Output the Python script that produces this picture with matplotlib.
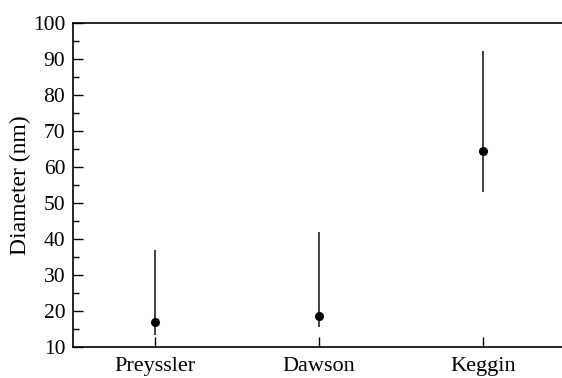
import numpy as np
import matplotlib.pyplot as plt
from matplotlib.ticker import MultipleLocator

categories = ["Preyssler", "Dawson", "Keggin"]
diameter = [17.0, 18.7, 64.4]
err_low = [13.3, 15.6, 53.1]
err_high = [37.0, 42.0, 92.2]

plt.rcParams['font.family'] = 'Liberation Serif'
plt.rcParams['mathtext.fontset'] = 'stix'

fig = plt.figure(figsize=(5.62, 3.78), dpi=100)
ax = fig.add_axes([73 / 562, 1 - 347 / 378, (565 - 73) / 562, (347 - 23) / 378])

x = np.arange(1, len(categories) + 1)
y = np.array(diameter)
yerr = [y - np.array(err_low), np.array(err_high) - y]
ax.errorbar(x, y, yerr=yerr, fmt='o', color='black', ecolor='#222222',
            elinewidth=1.2, capsize=0, markersize=5.5)

ax.set_xlim(0.5, 3.5)
ax.set_ylim(10, 100)
ax.set_xticks(x)
ax.set_xticklabels(categories)
ax.yaxis.set_major_locator(MultipleLocator(10))
ax.yaxis.set_minor_locator(MultipleLocator(5))
ax.tick_params(axis='both', which='major', direction='in', length=7, width=1,
               top=False, right=False)
ax.tick_params(axis='x', labelsize=16, pad=7)
ax.tick_params(axis='y', labelsize=15.5, pad=5.5)
ax.tick_params(axis='y', which='minor', direction='in', length=4, width=1)
ax.spines['right'].set_visible(False)
for s in ['left', 'bottom', 'top']:
    ax.spines[s].set_linewidth(1.2)
ax.set_ylabel('Diameter (nm)', fontsize=17, labelpad=1.5)

fig.savefig('out.png', dpi=100)
